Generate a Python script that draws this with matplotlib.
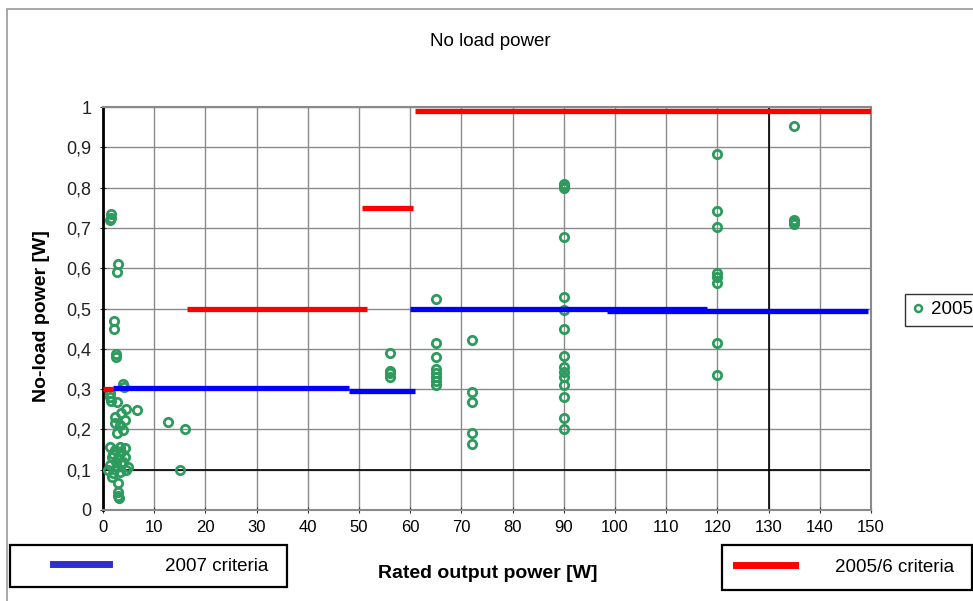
import matplotlib
matplotlib.use("Agg")
import matplotlib.pyplot as plt
from matplotlib.lines import Line2D
from matplotlib.patches import Rectangle
from matplotlib import font_manager

plt.rcParams['font.family'] = ['Liberation Sans', 'DejaVu Sans']
names = {f.name for f in font_manager.fontManager.ttflist}
narrow = 'Liberation Sans Narrow' if 'Liberation Sans Narrow' in names else 'Liberation Sans'

# measured units (2005)
rated_power = [1.5, 1.6, 1.4, 2.9, 2.8, 2.2, 2.1, 2.5, 2.5, 4.0, 4.1,
               1.4, 1.3, 1.5, 2.7, 6.6, 4.5, 3.6, 2.3, 4.3, 2.3, 3.3, 4.0, 2.7,
               1.4, 2.3, 3.3, 4.3, 1.7, 3.0, 4.3, 2.0, 3.6,
               1.4, 2.7, 3.6, 4.9, 1.0, 2.0, 3.3, 4.5, 1.7, 2.5, 4.0,
               3.0, 3.0, 2.9, 3.1,
               12.7, 16, 15,
               56, 56, 56, 56,
               65, 65, 65, 65, 65, 65, 65, 65,
               72, 72, 72, 72, 72,
               90, 90, 90, 90, 90, 90, 90, 90, 90, 90, 90, 90, 90, 90, 90,
               120, 120, 120, 120, 120, 120, 120, 120,
               135, 135, 135, 135]
noload_power = [0.735, 0.725, 0.72, 0.61, 0.59, 0.47, 0.45, 0.388, 0.38, 0.313, 0.305,
                0.29, 0.28, 0.27, 0.269, 0.248, 0.25, 0.24, 0.232, 0.223, 0.216, 0.211, 0.199, 0.19,
                0.157, 0.149, 0.157, 0.154, 0.132, 0.129, 0.132, 0.14, 0.145,
                0.112, 0.107, 0.116, 0.107, 0.099, 0.092, 0.095, 0.099, 0.083, 0.12, 0.12,
                0.067, 0.045, 0.035, 0.03,
                0.219, 0.2, 0.1,
                0.39, 0.345, 0.34, 0.33,
                0.523, 0.414, 0.38, 0.35, 0.34, 0.33, 0.32, 0.31,
                0.422, 0.294, 0.269, 0.192, 0.165,
                0.81, 0.805, 0.8, 0.678, 0.529, 0.497, 0.448, 0.382, 0.356, 0.343, 0.33, 0.31, 0.281, 0.228, 0.2,
                0.883, 0.743, 0.701, 0.587, 0.579, 0.563, 0.415, 0.335,
                0.953, 0.72, 0.715, 0.71]

# criteria segments: start W, end W, limit
crit_2005_start = [0, 16.5, 50.5, 61]
crit_2005_end = [2, 51.5, 60.5, 150]
crit_2005_level = [0.30, 0.50, 0.75, 0.99]

crit_2007_start = [2, 48, 60, 98.5]
crit_2007_end = [48, 61, 118, 149.5]
crit_2007_level = [0.302, 0.296, 0.50, 0.493]

xticks = list(range(0, 151, 10))
yticks = [0, 0.1, 0.2, 0.3, 0.4, 0.5, 0.6, 0.7, 0.8, 0.9, 1]
ytick_labels = ['0', '0,1', '0,2', '0,3', '0,4', '0,5', '0,6', '0,7', '0,8', '0,9', '1']

green = '#2e9b5e'
grid_c = '#8a8a8a'

fig = plt.figure(figsize=(9.73, 6.01), dpi=100)
ax = fig.add_axes([103 / 973, 1 - 510 / 601, 768 / 973, 403 / 601])

ax.plot(rated_power, noload_power, 'o', ls='none', ms=6, mfc='none',
        mec=green, mew=2, zorder=3)

for x0, x1, y in zip(crit_2005_start, crit_2005_end, crit_2005_level):
    ax.plot([x0, x1], [y, y], color='#ff0000', lw=3.8, solid_capstyle='butt', zorder=4)
for x0, x1, y in zip(crit_2007_start, crit_2007_end, crit_2007_level):
    ax.plot([x0, x1], [y, y], color='#0000ff', lw=3.8, solid_capstyle='butt', zorder=4)

ax.set_xlim(0, 150)
ax.set_ylim(0, 1)
ax.set_xticks(xticks)
ax.set_yticks(yticks)
ax.set_yticklabels(ytick_labels)
ax.grid(True, color=grid_c, lw=1)
ax.axvline(130, color='black', lw=1.2, zorder=2)
ax.axhline(0.1, color='black', lw=1.2, zorder=2)
ax.set_axisbelow(True)
ax.tick_params(direction='inout', length=5, color='#333333')
ax.tick_params(axis='y', labelsize=13, pad=6)
ax.tick_params(axis='x', labelsize=12, pad=5)
for t in ax.get_xticklabels():
    t.set_family(narrow)
for t in ax.get_yticklabels():
    t.set_color('#222222')
for s in ['top', 'right', 'bottom']:
    ax.spines[s].set_color(grid_c)
    ax.spines[s].set_linewidth(1.5)
ax.spines['left'].set_color('black')
ax.spines['left'].set_linewidth(2)

fig.text(490 / 973, 1 - 42 / 601, 'No load power', ha='center', va='center', fontsize=13.5)
fig.text(42 / 973, 1 - 316 / 601, 'No-load power [W]', rotation=90, ha='center',
         va='center', fontsize=14, fontweight='bold')
fig.text(488 / 973, 1 - 574 / 601, 'Rated output power [W]', ha='center', va='center',
         fontsize=14, fontweight='bold')

# outer chart frame
fig.add_artist(Rectangle((7 / 973, -0.05), 1.2, 1 - 9 / 601 + 0.05, transform=fig.transFigure,
                         fill=False, edgecolor='#9a9a9a', lw=1.2))

fs = 13.5
fs_px = fs * 100 / 72
leg_kw = dict(fontsize=fs, frameon=False, borderpad=0, borderaxespad=0, loc='center left')

# criteria legend boxes
for x0, y0, x1, y1 in [(10, 545, 287, 587), (722, 545, 972, 590)]:
    fig.add_artist(Rectangle((x0 / 973, 1 - y1 / 601), (x1 - x0) / 973, (y1 - y0) / 601,
                             transform=fig.transFigure, fill=False, edgecolor='black', lw=1.6))

h07 = Line2D([], [], color='#3030d0', lw=5)
fig.legend([h07], ['2007 criteria'], bbox_to_anchor=(53 / 973, 1 - 566 / 601),
           handlelength=56 / fs_px, handletextpad=(165 - 109) / fs_px, **leg_kw)
h05 = Line2D([], [], color='#ff0000', lw=5)
fig.legend([h05], ['2005/6 criteria'], bbox_to_anchor=(736 / 973, 1 - 567 / 601),
           handlelength=59 / fs_px, handletextpad=(835 - 795) / fs_px, **leg_kw)

hp = Line2D([], [], marker='o', ls='none', ms=5, mfc='none', mec=green, mew=1.8)
l3 = fig.legend([hp], ['2005'], loc='lower left', fontsize=fs, frameon=True,
                fancybox=False, edgecolor='black', borderaxespad=0,
                bbox_to_anchor=(905 / 973, 1 - 326 / 601), handlelength=0.6,
                handletextpad=0.4, borderpad=0.4)

fig.savefig('out.png', dpi=100)
